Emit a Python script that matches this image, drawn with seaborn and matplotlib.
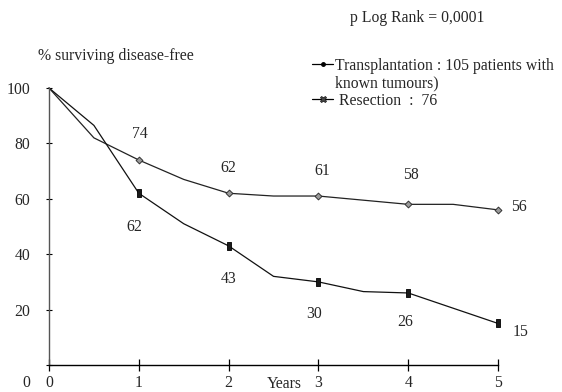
import matplotlib
matplotlib.use("Agg")
import matplotlib.pyplot as plt
import matplotlib.transforms as mtransforms
from matplotlib.lines import Line2D
from matplotlib.path import Path
import seaborn as sns
import pandas as pd

# Disease-free survival (%) read at half-year steps
years = [0, 0.5, 1, 1.5, 2, 2.5, 3, 3.5, 4, 4.5, 5]
transplantation = [100, 82, 74, 67, 62, 61, 61, 59.5, 58, 58, 56]
resection = [100, 86.5, 62, 51, 43, 32, 30, 26.5, 26, 20.5, 15]

# Yearly values that are printed on the chart
label_years = [1, 2, 3, 4, 5]
transplantation_labels = [74, 62, 61, 58, 56]
resection_labels = [62, 43, 30, 26, 15]

x_ticks = [0, 1, 2, 3, 4, 5]
y_ticks = [0, 20, 40, 60, 80, 100]

FS = 11.3

sns.set_theme(style="white")
plt.rcParams["font.family"] = ["Liberation Serif", "DejaVu Serif"]
plt.rcParams["font.size"] = FS

df = pd.DataFrame({
    "year": years * 2,
    "pct": transplantation + resection,
    "group": ["Transplantation"] * len(years) + ["Resection"] * len(years),
})
marks = pd.DataFrame({
    "year": label_years * 2,
    "pct": transplantation_labels + resection_labels,
    "group": ["Transplantation"] * len(label_years) + ["Resection"] * len(label_years),
})

# tall, narrow block used for the resection points
tall_box = Path([(-0.6, -1), (0.6, -1), (0.6, 1), (-0.6, 1), (-0.6, -1)],
                [Path.MOVETO, Path.LINETO, Path.LINETO, Path.LINETO, Path.CLOSEPOLY])

fig = plt.figure(figsize=(5.62, 3.92), dpi=100)
ax = fig.add_axes([0.0872, 0.0689, 0.799, 0.7066])

pal = {"Transplantation": "#222222", "Resection": "#111111"}
sns.lineplot(data=df, x="year", y="pct", hue="group", palette=pal,
             linewidth=0.9, legend=False, ax=ax, clip_on=False)
sns.scatterplot(data=marks[marks.group == "Transplantation"], x="year", y="pct",
                marker="D", s=12, color="#9a9a9a", edgecolor="#333333",
                linewidth=0.7, legend=False, ax=ax, clip_on=False, zorder=3)
sns.scatterplot(data=marks[marks.group == "Resection"], x="year", y="pct",
                marker=tall_box, s=30, color="#1a1a1a", edgecolor="#000000",
                linewidth=0.6, legend=False, ax=ax, clip_on=False, zorder=3)

ax.set_xlim(0, 5)
ax.set_ylim(0, 100)
ax.set_xlabel("")
ax.set_ylabel("")
ax.set_xticks(x_ticks)
ax.set_xticklabels([str(v) for v in x_ticks])
ax.set_yticks(y_ticks)
ax.set_yticklabels([str(v) for v in y_ticks])
ax.tick_params(axis="x", direction="inout", length=9, width=0.9, color="black",
               pad=3, labelsize=FS, bottom=True)
ax.tick_params(axis="y", direction="inout", length=5, width=0.8, color="black",
               pad=11, labelsize=FS, left=True)
for side in ("top", "right"):
    ax.spines[side].set_visible(False)
ax.spines["left"].set_color("#555555")
ax.spines["left"].set_linewidth(1.0)
ax.spines["bottom"].set_color("black")
ax.spines["bottom"].set_linewidth(1.0)

# the zero of the y axis sits level with the year labels
zero_lbl = ax.get_yticklabels()[0]
zero_lbl.set_transform(zero_lbl.get_transform() +
                       mtransforms.ScaledTranslation(0, -11.5 / 72, fig.dpi_scale_trans))

# value labels for each year
t_off = [(1, 19), (0, 18), (3, 18), (2, 21), (15, 2)]
r_off = [(-3, -24), (0, -24), (-3, -23), (-2, -21), (16, -6)]
for yr, v, off in zip(label_years, transplantation_labels, t_off):
    ax.annotate(str(v), (yr, v), xytext=off, textcoords="offset points",
                ha="center", va="center", fontsize=FS, annotation_clip=False)
for yr, v, off in zip(label_years, resection_labels, r_off):
    ax.annotate(str(v), (yr, v), xytext=off, textcoords="offset points",
                ha="center", va="center", fontsize=FS, annotation_clip=False)

fig.text(0.068, 0.858, "% surviving disease-free", fontsize=FS, va="center")
fig.text(0.623, 0.953, "p Log Rank = 0,0001", fontsize=FS, va="center")
fig.text(0.475, 0.02, "Years", fontsize=FS, va="center")

# legend: the second line of the transplantation entry carries no symbol
handles = [
    Line2D([], [], color="black", linewidth=0.9, marker="o", markersize=2.5,
           markerfacecolor="black"),
    Line2D([], [], color="none", linewidth=0),
    Line2D([], [], color="black", linewidth=0.9, marker="X", markersize=4.5,
           markerfacecolor="#444444", markeredgecolor="black", markeredgewidth=0.4),
]
fig.legend(handles,
           ["Transplantation : 105 patients with", "known tumours)", " Resection  :  76"],
           loc="upper left", bbox_to_anchor=(0.555, 0.853), frameon=False,
           handlelength=1.35, handletextpad=0.15, labelspacing=0.1, fontsize=FS,
           borderaxespad=0, borderpad=0)

fig.savefig("out.png", dpi=100)
